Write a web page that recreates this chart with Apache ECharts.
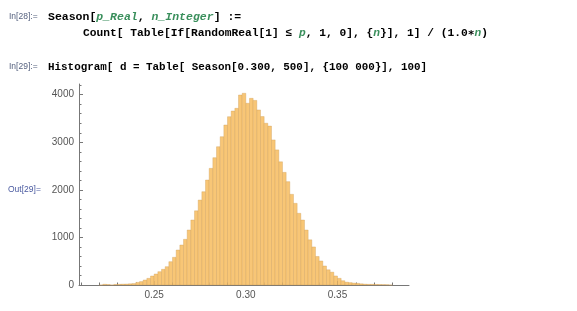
<!DOCTYPE html>
<html>
<head>
<meta charset="utf-8">
<script src="https://cdn.jsdelivr.net/npm/echarts@6/dist/echarts.min.js"></script>
<style>
html,body{margin:0;padding:0;background:#fff;}
#chart{width:577px;height:311px;}
</style>
</head>
<body>
<div id="chart"></div>
<script>
// ---- data ----
const binWidth = 0.002;
const binStarts = [
  0.220,0.222,0.224,0.226,0.228,0.230,0.232,0.234,0.236,0.238,
  0.240,0.242,0.244,0.246,0.248,0.250,0.252,0.254,0.256,0.258,
  0.260,0.262,0.264,0.266,0.268,0.270,0.272,0.274,0.276,0.278,
  0.280,0.282,0.284,0.286,0.288,0.290,0.292,0.294,0.296,0.298,
  0.300,0.302,0.304,0.306,0.308,0.310,0.312,0.314,0.316,0.318,
  0.320,0.322,0.324,0.326,0.328,0.330,0.332,0.334,0.336,0.338,
  0.340,0.342,0.344,0.346,0.348,0.350,0.352,0.354,0.356,0.358,
  0.360,0.362,0.364,0.366,0.368,0.370,0.372,0.374,0.376,0.378
];
const counts = [
  0,15,10,0,12,15,18,20,25,30,
  55,72,105,140,189,231,280,330,385,490,
  582,736,841,960,1156,1366,1560,1786,1961,2207,
  2452,2676,2907,3117,3363,3538,3657,3714,3994,4030,
  3820,3924,3880,3680,3540,3400,3340,3050,2840,2590,
  2368,2172,1906,1717,1507,1366,1156,950,800,600,
  505,400,320,270,190,140,90,60,50,40,
  35,25,18,14,14,12,10,8,6,0
];
const xMajorTicks = [0.25, 0.30, 0.35];
const xMinorTicks = [0.21,0.22,0.23,0.24,0.26,0.27,0.28,0.29,0.31,0.32,0.33,0.34,0.36,0.37,0.38];
const yTicks = [0, 1000, 2000, 3000, 4000];
const yMinorTicks = [200,400,600,800,1200,1400,1600,1800,2200,2400,2600,2800,3200,3400,3600,3800,4200];

// code text segments: [text, isGreenItalic]
const codeLine1 = [['Season[', 0], ['p_Real', 1], [', ', 0], ['n_Integer', 1], ['] :=', 0]];
const codeLine2 = [['Count[ Table[If[RandomReal[1] \u2264 ', 0], ['p', 1], [', 1, 0], {', 0], ['n', 1], ['}], 1] / (1.0\u2217', 0], ['n', 1], [')', 0]];
const codeLine3 = [['Histogram[ d = Table[ Season[0.300, 500], {100 000}], 100]', 0]];

// ---- chart ----
const chart = echarts.init(document.getElementById('chart'), null, {renderer: 'canvas'});
const mono = '"Liberation Mono","DejaVu Sans Mono",monospace';
const sans = '"Liberation Sans","DejaVu Sans",sans-serif';
const mctx = document.createElement('canvas').getContext('2d');

function codeElements(parts, x0, y, size){
  const fontPlain = 'bold ' + size + 'px ' + mono;
  const fontGreen = 'italic bold ' + size + 'px ' + mono;
  const els = [];
  let x = x0;
  parts.forEach(([t, g]) => {
    const font = g ? fontGreen : fontPlain;
    els.push({type: 'text', x: x, y: y, style: {text: t, font: font, fill: g ? '#3a8f5c' : '#000', verticalAlign: 'middle'}});
    mctx.font = font;
    x += mctx.measureText(t).width;
  });
  return els;
}

const axisColor = '#777';
const labelColor = '#555';

chart.setOption({
  animation: false,
  grid: {left: 79, right: 168, top: 84, bottom: 26, containLabel: false},
  xAxis: [{
    type: 'value', min: 0.209, max: 0.389,
    splitLine: {show: false},
    axisLine: {show: true, lineStyle: {color: axisColor, width: 1}},
    axisTick: {show: true, inside: true, length: 4, customValues: xMajorTicks, lineStyle: {color: axisColor}},
    axisLabel: {show: true, customValues: xMajorTicks, margin: 5, color: labelColor, fontSize: 10, fontFamily: sans,
      formatter: v => v.toFixed(2)}
  }, {
    type: 'value', min: 0.209, max: 0.389, position: 'bottom',
    splitLine: {show: false},
    axisLine: {show: false},
    axisTick: {show: true, inside: true, length: 2.5, customValues: xMinorTicks, lineStyle: {color: axisColor}},
    axisLabel: {show: false}
  }],
  yAxis: [{
    type: 'value', min: 0, max: 4225,
    splitLine: {show: false},
    axisLine: {show: true, lineStyle: {color: axisColor, width: 1}},
    axisTick: {show: true, inside: true, length: 4, customValues: yTicks, lineStyle: {color: axisColor}},
    axisLabel: {customValues: yTicks, margin: 5, color: labelColor, fontSize: 10, fontFamily: sans,
      formatter: v => String(v)}
  }, {
    type: 'value', min: 0, max: 4225, position: 'left',
    splitLine: {show: false},
    axisLine: {show: false},
    axisTick: {show: true, inside: true, length: 2.5, customValues: yMinorTicks, lineStyle: {color: axisColor}},
    axisLabel: {show: false}
  }],
  series: [{
    type: 'custom',
    xAxisIndex: 0,
    yAxisIndex: 0,
    data: binStarts.map((b, i) => [b, counts[i]]),
    renderItem: function(params, api){
      const x0 = api.value(0), c = api.value(1);
      const p1 = api.coord([x0, c]);
      const p2 = api.coord([x0 + binWidth, 0]);
      return {
        type: 'rect',
        shape: {x: p1[0], y: p1[1], width: p2[0] - p1[0], height: p2[1] - p1[1]},
        style: {fill: '#F8C676', stroke: 'rgba(200,150,80,0.55)', lineWidth: 0.6}
      };
    },
    z: 1
  }],
  graphic: [
    {type: 'text', x: 9, y: 17, style: {text: 'In[28]:=', font: '8.5px ' + sans, fill: '#56627f', verticalAlign: 'middle'}},
    ...codeElements(codeLine1, 48, 17, 11.5),
    ...codeElements(codeLine2, 83, 33, 11.25),
    {type: 'text', x: 9, y: 67, style: {text: 'In[29]:=', font: '8.5px ' + sans, fill: '#56627f', verticalAlign: 'middle'}},
    ...codeElements(codeLine3, 48, 67, 10.9),
    {type: 'text', x: 8, y: 190, style: {text: 'Out[29]=', font: '8.5px ' + sans, fill: '#4a5aa0', verticalAlign: 'middle'}}
  ]
});
</script>
</body>
</html>
